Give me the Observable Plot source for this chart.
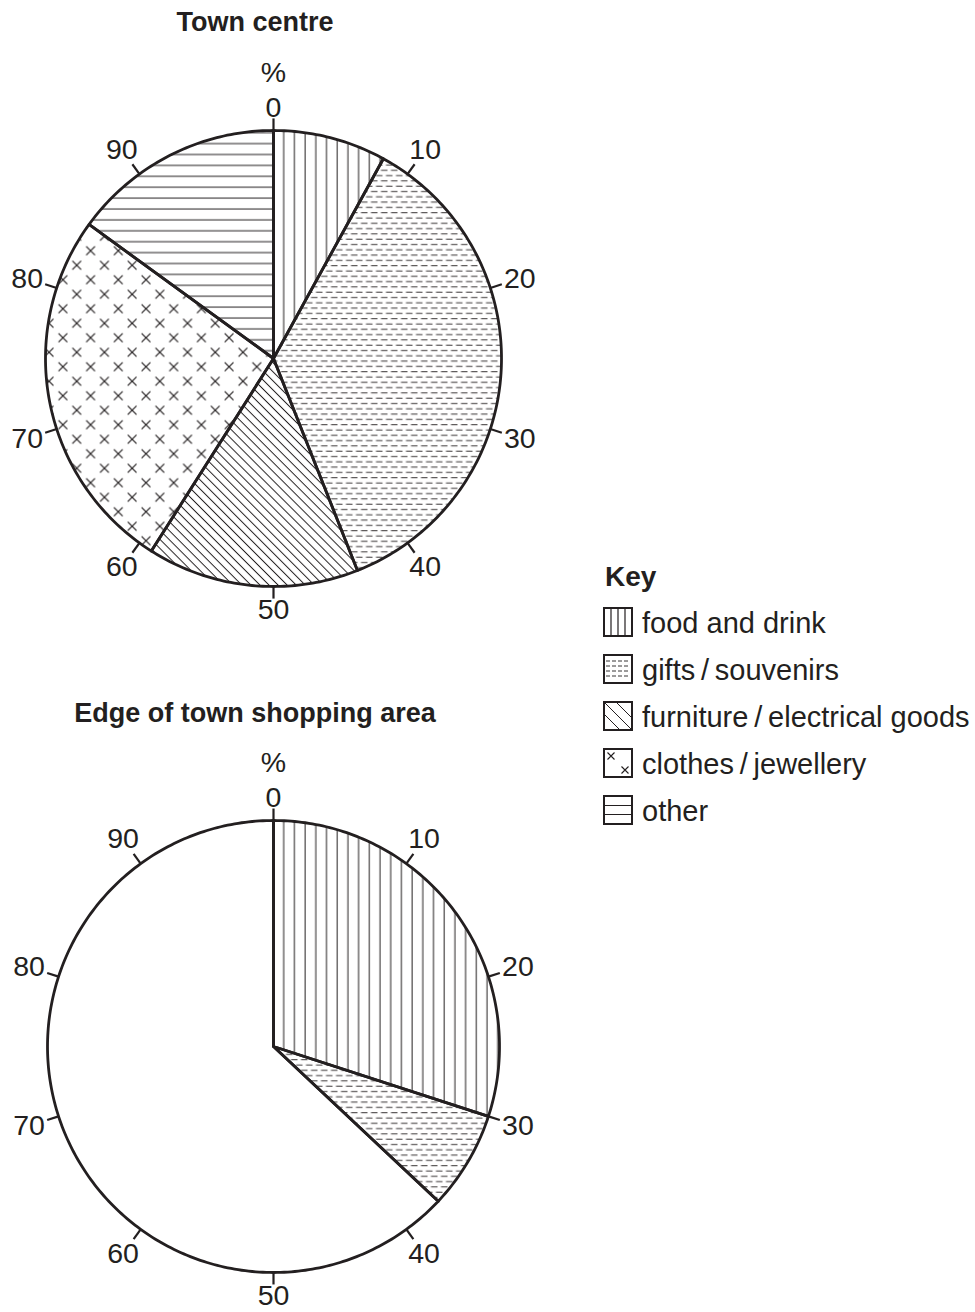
<!DOCTYPE html>
<html><head><meta charset="utf-8">
<script src="https://cdn.jsdelivr.net/npm/d3@7"></script>
<script src="https://cdn.jsdelivr.net/npm/@observablehq/plot@0.6"></script>
<style>
body{margin:0;background:#fff;font-family:"Liberation Sans",Arial,Helvetica,sans-serif;color:#231f20}
#page{position:relative;width:975px;height:1312px;overflow:hidden;background:#fff}
.title{position:absolute;left:0;width:510px;text-align:center;font-weight:bold;font-size:27px;line-height:1;white-space:nowrap}
.pie{position:absolute;left:0}
.keyhead{position:absolute;left:605px;top:563px;font-weight:bold;font-size:28px;line-height:1}
.keyrow{position:absolute;left:603px;height:30px}
.keyrow svg{position:absolute;left:0;top:0}
.keyrow span{position:absolute;left:39px;top:2px;font-size:29px;line-height:1;white-space:nowrap}
</style>
</head><body>
<svg width="0" height="0" style="position:absolute">
<defs>
<pattern id="p-food" patternUnits="userSpaceOnUse" width="10.7" height="10">
<line x1="5" y1="-1" x2="5" y2="11" stroke="#231f20" stroke-width="1"/>
</pattern>
<pattern id="p-gifts" patternUnits="userSpaceOnUse" width="10" height="10.6">
<line x1="0.5" y1="2.6" x2="7" y2="2.6" stroke="#3a3637" stroke-width="1"/>
<line x1="5.5" y1="7.9" x2="10" y2="7.9" stroke="#3a3637" stroke-width="1"/>
<line x1="0" y1="7.9" x2="2" y2="7.9" stroke="#3a3637" stroke-width="1"/>
</pattern>
<pattern id="p-furn" patternUnits="userSpaceOnUse" width="6.4" height="10" patternTransform="rotate(-45)">
<line x1="3.2" y1="-1" x2="3.2" y2="11" stroke="#231f20" stroke-width="1"/>
</pattern>
<pattern id="p-clothes" patternUnits="userSpaceOnUse" width="27.7" height="29">
<path d="M2.6,2.85L11.4,11.65M11.4,2.85L2.6,11.65M16.45,17.35L25.25,26.15M25.25,17.35L16.45,26.15" stroke="#231f20" stroke-width="1.2" fill="none"/>
</pattern>
<pattern id="p-other" patternUnits="userSpaceOnUse" width="10" height="10.9">
<line x1="-1" y1="5" x2="11" y2="5" stroke="#231f20" stroke-width="1"/>
</pattern>
</defs>
</svg>
<div id="page">
  <div class="title" style="top:9px">Town centre</div>
  <div class="pie" id="pie1" style="top:40px"></div>
  <div class="title" style="top:700px">Edge of town shopping area</div>
  <div class="pie" id="pie2" style="top:728px"></div>
  <div class="keyhead">Key</div>
  <div id="key"></div>
</div>
<script>
// ---- data ----
const categories = ["food and drink", "gifts/souvenirs", "furniture/electrical goods", "clothes/jewellery", "other"];
const keyLabels = ["food and drink", "gifts\u2009/\u2009souvenirs", "furniture\u2009/\u2009electrical goods", "clothes\u2009/\u2009jewellery", "other"];
const townCentre = [8, 36, 15, 26, 15];          // % of shops
const edgeOfTown = [30, 7, null, null, null];    // only two sectors shaded; rest left blank
const tickValues = [0, 10, 20, 30, 40, 50, 60, 70, 80, 90];
const tickLabels = ["0", "10", "20", "30", "40", "50", "60", "70", "80", "90"];
const unitLabel = ["%"];

// ---- styling ----
const ink = "#231f20";
const patternUrls = ["url(#p-food)", "url(#p-gifts)", "url(#p-furn)", "url(#p-clothes)", "url(#p-other)"];
const BLANK = "unshaded";

function wedgePoints(values) {
  const pts = [];
  let acc = 0;
  const cats = [], vals = [];
  values.forEach((v, i) => { if (v != null) { cats.push(categories[i]); vals.push(v); } });
  const total = d3.sum(vals);
  if (total < 100) { cats.push(BLANK); vals.push(100 - total); }
  vals.forEach((v, i) => {
    const a0 = acc, a1 = acc + v; acc = a1;
    const n = Math.max(2, Math.ceil(v * 4));
    pts.push({cat: cats[i], x: 0, y: 0});
    for (let k = 0; k <= n; k++) {
      const p = a0 + (a1 - a0) * k / n;
      const t = p / 100 * 2 * Math.PI;
      pts.push({cat: cats[i], x: Math.sin(t), y: Math.cos(t)});
    }
    pts.push({cat: cats[i], x: 0, y: 0});
  });
  return pts;
}

const ang = p => p / 100 * 2 * Math.PI;

function piePlot(values, r, cy, height) {
  const pts = wedgePoints(values);
  const cx = 273;
  const ext = p => 14 + Math.abs(Math.sin(ang(p))) * 15 + Math.abs(Math.cos(ang(p))) * 9;
  const lr = p => 1 + ext(p) / r;
  return Plot.plot({
    width: 560, height, margin: 0,
    x: {domain: [-1, 1], range: [cx - r, cx + r], axis: null},
    y: {domain: [-1, 1], range: [cy + r, cy - r], axis: null},
    color: {type: "ordinal", domain: [...categories, BLANK], range: [...patternUrls, "white"]},
    style: {fontFamily: '"Liberation Sans", Arial, Helvetica, sans-serif', color: ink, background: "transparent", overflow: "visible"},
    marks: [
      Plot.line(pts, {x: "x", y: "y", z: "cat", fill: "cat", stroke: "none"}),
      Plot.line(pts, {x: "x", y: "y", z: "cat", stroke: ink, strokeWidth: 2.8, strokeLinejoin: "round"}),
      Plot.link(tickValues, {
        x1: p => Math.sin(ang(p)), y1: p => Math.cos(ang(p)),
        x2: p => 1.053 * Math.sin(ang(p)), y2: p => 1.053 * Math.cos(ang(p)),
        stroke: ink, strokeWidth: 2.2
      }),
      Plot.text(tickValues, {
        x: p => lr(p) * Math.sin(ang(p)), y: p => lr(p) * Math.cos(ang(p)),
        text: (p, i) => tickLabels[i], fontSize: 28.5, fill: ink
      }),
      Plot.text(unitLabel, {
        x: () => 0, y: () => lr(0), dy: -35, text: d => d, fontSize: 28.5, fill: ink
      })
    ]
  });
}

document.getElementById("pie1").append(piePlot(townCentre, 228, 318, 600));
document.getElementById("pie2").append(piePlot(edgeOfTown, 226, 318, 584));

// ---- key ----
const swatchSvg = [
  `<rect x="1" y="1" width="28" height="28" fill="white" stroke="${ink}" stroke-width="2"/><path d="M8,1V29M15,1V29M22,1V29" stroke="${ink}" stroke-width="1.2"/>`,
  `<rect x="1" y="1" width="28" height="28" fill="white" stroke="${ink}" stroke-width="2"/><path d="M3,7H27M3,12H27M3,17H27M3,22H27" stroke="${ink}" stroke-width="0.9" stroke-dasharray="4 2"/>`,
  `<rect x="1" y="1" width="28" height="28" fill="white" stroke="${ink}" stroke-width="2"/><path d="M13,1L29,17M1,1L29,29M1,13L17,29" stroke="${ink}" stroke-width="1"/>`,
  `<rect x="1" y="1" width="28" height="28" fill="white" stroke="${ink}" stroke-width="2"/><path d="M4.5,4.5L11.5,11.5M11.5,4.5L4.5,11.5M18.5,18.5L25.5,25.5M25.5,18.5L18.5,25.5" stroke="${ink}" stroke-width="1.1"/>`,
  `<rect x="1" y="1" width="28" height="28" fill="white" stroke="${ink}" stroke-width="2"/><path d="M1,10.5H29M1,19.5H29" stroke="${ink}" stroke-width="1.2"/>`
];
const keyTops = [607, 654, 701, 748, 795];
const key = document.getElementById("key");
categories.forEach((c, i) => {
  const row = document.createElement("div");
  row.className = "keyrow";
  row.style.top = keyTops[i] + "px";
  row.innerHTML = `<svg width="30" height="30">${swatchSvg[i]}</svg><span>${keyLabels[i]}</span>`;
  key.append(row);
});
</script>
</body></html>
